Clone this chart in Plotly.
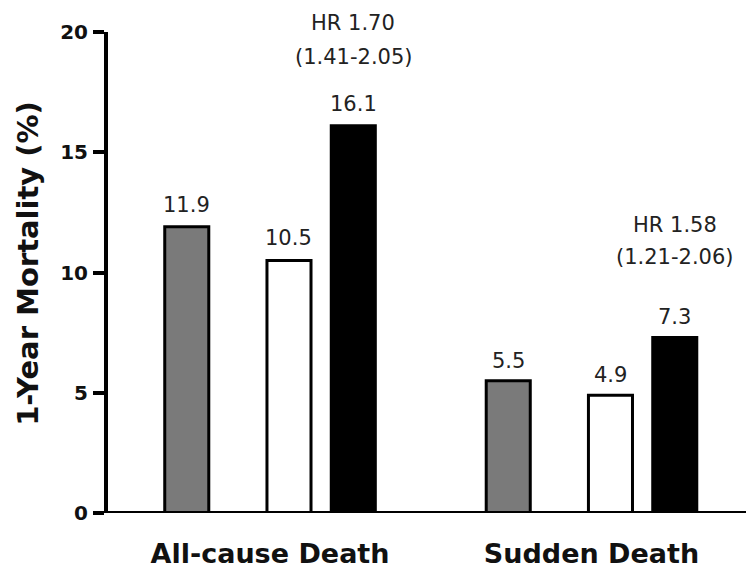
import plotly.graph_objects as go

# Data
categories = ["All-cause Death", "Sudden Death"]
gray_vals = [11.9, 5.5]
white_vals = [10.5, 4.9]
black_vals = [16.1, 7.3]
hr_vals = [1.70, 1.58]
ci_low = [1.41, 1.21]
ci_high = [2.05, 2.06]
y_ticks = [0, 5, 10, 15, 20]

# Layout constants (bar placement relative to each category centre)
BAR_W = 0.137
series = [
    (gray_vals, -0.259, "#7a7a7a"),
    (white_vals, 0.059, "#ffffff"),
    (black_vals, 0.259, "#000000"),
]
LABEL_FONT = dict(family="DejaVu Sans", size=21, color="#222222")
BOLD = dict(family="DejaVu Sans", color="#111111", weight="bold")

fig = go.Figure()
for vals, center, color in series:
    fig.add_trace(go.Bar(
        x=categories, y=vals,
        offset=center - BAR_W / 2, width=BAR_W,
        marker=dict(color=color, line=dict(color="#000000", width=3)),
        showlegend=False, hoverinfo="skip",
    ))

annotations = []
# value labels above each bar
for vals, center, _ in series:
    for i, v in enumerate(vals):
        annotations.append(dict(
            x=i + center, y=v, xref="x", yref="y",
            text=f"{v:.1f}", showarrow=False,
            yanchor="bottom", yshift=[8, 6][i], font=LABEL_FONT,
        ))

# hazard ratio labels over the black bars
black_center = series[2][1]
for i, (h, lo, hi) in enumerate(zip(hr_vals, ci_low, ci_high)):
    top = black_vals[i]
    annotations.append(dict(
        x=i + black_center, y=top, xref="x", yref="y",
        text=f"({lo:.2f}-{hi:.2f})", showarrow=False,
        yanchor="bottom", yshift=[55, 66][i], font=LABEL_FONT,
    ))
    annotations.append(dict(
        x=i + black_center, y=top, xref="x", yref="y",
        text=f"HR {h:.2f}", showarrow=False,
        yanchor="bottom", yshift=[89, 98][i], font=LABEL_FONT,
    ))

# y-axis title
annotations.append(dict(
    x=-0.1254, y=0.52, xref="paper", yref="paper",
    text="1-Year Mortality (%)", textangle=-90, showarrow=False,
    xanchor="center", yanchor="middle",
    font=dict(BOLD, size=29),
))

fig.update_layout(
    width=746, height=576,
    margin=dict(l=108, r=0, t=32, b=63, autoexpand=False),
    paper_bgcolor="white", plot_bgcolor="white",
    barmode="overlay",
    annotations=annotations,
    shapes=[dict(
        type="line", xref="paper", yref="y",
        x0=-0.0125, x1=1, y0=0, y1=0,
        line=dict(color="#000000", width=4), layer="above",
    )],
    xaxis=dict(
        type="category", categoryorder="array", categoryarray=categories,
        range=[-0.504, 1.4806], showline=False, showgrid=False,
        zeroline=False, ticks="", ticklabelstandoff=22,
        tickfont=dict(BOLD, size=27),
    ),
    yaxis=dict(
        range=[0, 20], tickvals=y_ticks, ticktext=[str(t) for t in y_ticks],
        showline=True, linecolor="#000000", linewidth=4,
        ticks="outside", ticklen=11, tickwidth=4, tickcolor="#000000",
        showgrid=False, zeroline=False, ticklabelstandoff=1,
        tickfont=dict(BOLD, size=20),
    ),
)

fig.write_html("out.html")
